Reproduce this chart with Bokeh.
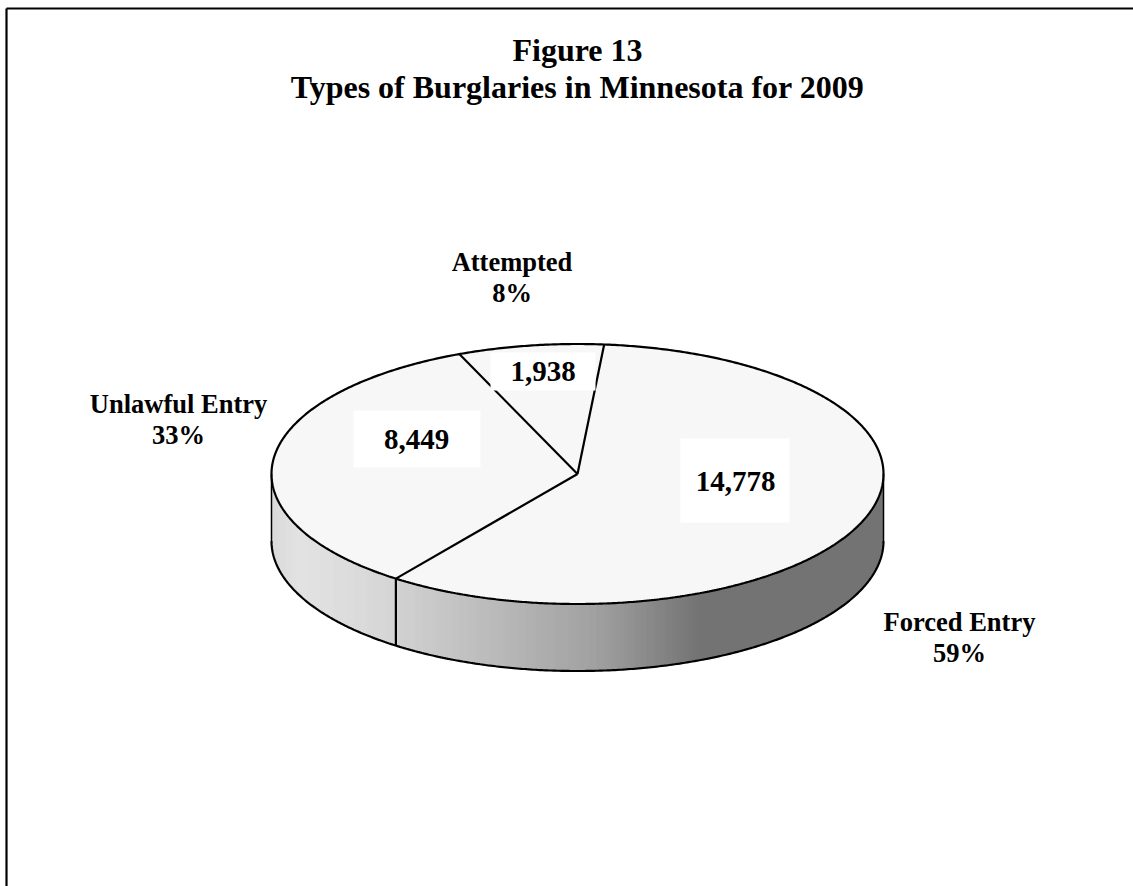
import numpy as np
from bokeh.plotting import figure
from bokeh.models import Range1d
from bokeh.core.properties import value
from bokeh.embed import file_html
from bokeh.resources import INLINE

# data
categories = ["Forced Entry", "Unlawful Entry", "Attempted"]
counts = [14778, 8449, 1938]
percent_labels = ["59%", "33%", "8%"]
count_labels = ["14,778", "8,449", "1,938"]
title_lines = ["Figure 13", "Types of Burglaries in Minnesota for 2009"]

# layout (page pixels)
CX, CY, RX, RY, DEPTH = 577, 473.5, 306, 130, 67
START_DEG = 5
FONT = value("Liberation Serif")

p = figure(width=1133, height=886, x_range=Range1d(0, 1133), y_range=Range1d(886, 0),
           output_backend="svg", toolbar_location=None, min_border=0,
           outline_line_color=None, background_fill_color="white",
           border_fill_color="white")
p.axis.visible = False
p.grid.visible = False

def rim(deg):
    a = np.radians(deg)
    return CX + RX * np.sin(a), CY - RY * np.cos(a)

# frame
p.line([6, 6], [8, 886], line_color="black", line_width=2.2)
p.line([6, 1133], [8, 8], line_color="black", line_width=2.2)

# side wall with a horizontal gradient
stop_x = [271, 300, 392, 396, 400, 500, 600, 700, 883]
stop_g = [214, 224, 210, 210, 205, 178, 150, 102, 102]
xs = np.arange(271, 883, 1.0)
gray = np.interp(xs + 0.5, stop_x, stop_g).astype(int)
mid = np.sqrt(np.clip(1 - ((xs + 0.5 - CX) / RX) ** 2, 0, 1))
tops = CY + RY * mid
colors = ["#%02x%02x%02x" % (g, g, g) for g in gray]
p.quad(left=xs, right=xs + 1, top=tops - 2, bottom=tops + DEPTH, fill_color=colors,
       line_color=colors, line_width=0.4)

# slices on the top face, angles taken from the counts
total = sum(counts)
angle = START_DEG
boundaries = []
for c in counts:
    sweep = 360 * c / total
    th = np.linspace(angle, angle + sweep, 200)
    x, y = rim(th)
    p.patch(np.r_[CX, x], np.r_[CY, y], fill_color="#f7f7f7", line_color="#f7f7f7", line_width=0.5)
    boundaries.append(angle)
    angle += sweep

# outline
th = np.linspace(0, 360, 721)
x, y = rim(th)
p.line(x, y, line_color="black", line_width=2.2)
th = np.linspace(90, 270, 361)
x, y = rim(th)
p.line(x, y + DEPTH, line_color="black", line_width=2.2)
p.line([CX + RX, CX + RX], [CY, CY + DEPTH], line_color="black", line_width=1.5)
p.line([CX - RX, CX - RX], [CY, CY + DEPTH], line_color="black", line_width=1.5)

# slice separators and the wall seam
for b in boundaries:
    x, y = rim(b)
    p.line([CX, float(x)], [CY, float(y)], line_color="black", line_width=2.2)
x, y = rim(boundaries[1])
p.line([float(x), float(x)], [float(y), float(y) + DEPTH], line_color="black", line_width=2.2)

# white boxes behind the counts
box_l = [680, 353, 490]
box_r = [789, 480, 595]
box_t = [438, 410, 352]
box_b = [522, 467, 390]
p.quad(left=box_l, right=box_r, top=box_t, bottom=box_b, fill_color="white", line_color=None)
count_x = [735, 416, 542.5]
count_y = [481, 439, 371]
p.text(count_x, count_y, text=count_labels, text_font=FONT, text_font_style="bold",
       text_font_size="29px", text_align="center", text_baseline="middle", text_color="black")

# category labels
cat_x = [959, 178, 511.5]
cat_y = [621, 403, 261]
pct_y = [652, 434.5, 292]
p.text(cat_x, cat_y, text=categories, text_font=FONT, text_font_style="bold", text_font_size="26.5px",
       text_align="center", text_baseline="middle", text_color="black")
p.text(cat_x, pct_y, text=percent_labels, text_font=FONT, text_font_style="bold", text_font_size="26.5px",
       text_align="center", text_baseline="middle", text_color="black")

# title
p.text([577, 577], [49.5, 86.5], text=title_lines, text_font=FONT, text_font_style="bold",
       text_font_size="32px", text_align="center", text_baseline="middle", text_color="black")

open("out.html", "w").write(file_html(p, INLINE))
